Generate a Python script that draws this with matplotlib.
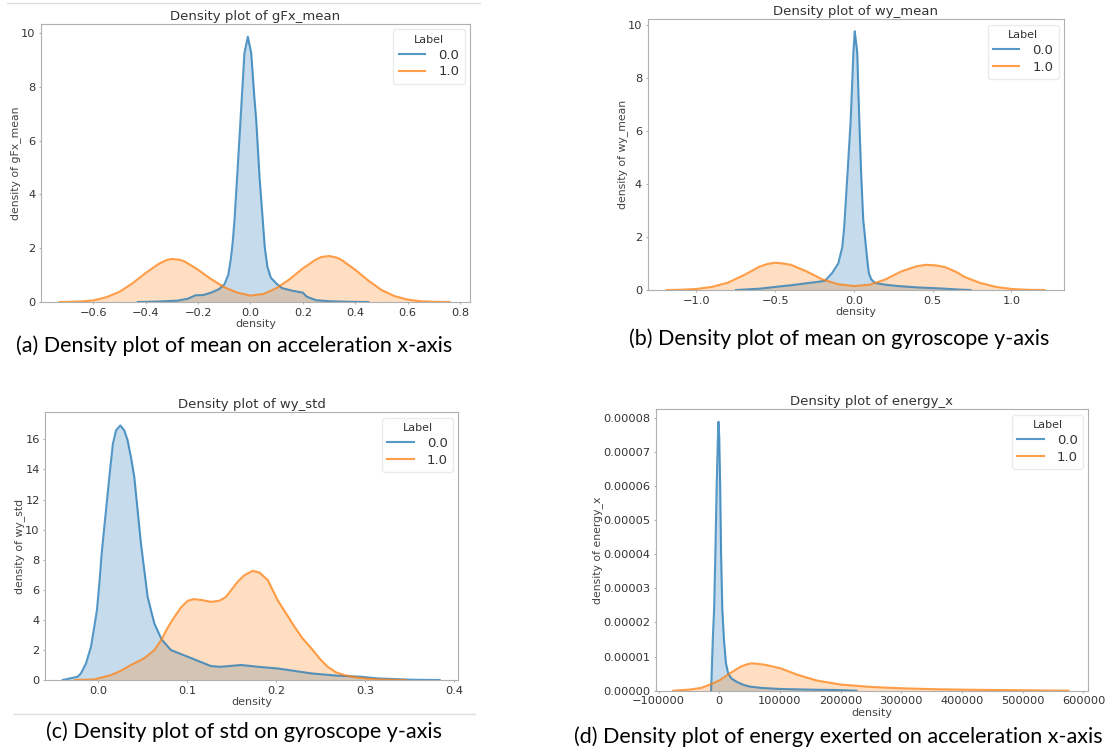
import matplotlib
matplotlib.use("Agg")
import matplotlib.pyplot as plt
from matplotlib.lines import Line2D
from matplotlib.ticker import FormatStrFormatter

# ---- density curves ----
# (a) gFx_mean
gfx_label0_x = [-0.43, -0.35, -0.28, -0.24, -0.21, -0.18, -0.15, -0.12, -0.1, -0.085, -0.075, -0.068,
                -0.061, -0.05, -0.038, -0.023, -0.01, 0.003, 0.015, 0.022, 0.035, 0.047, 0.055, 0.065,
                0.078, 0.098, 0.12, 0.16, 0.2, 0.215, 0.25, 0.3, 0.37, 0.45]
gfx_label0_y = [0, 0.02, 0.05, 0.12, 0.25, 0.26, 0.35, 0.48, 0.65, 1.0, 1.6, 2.2,
                3.05, 4.8, 6.77, 9.25, 9.86, 9.25, 7.6, 6.77, 4.6, 3.05, 2.0, 1.3,
                0.9, 0.7, 0.52, 0.42, 0.35, 0.2, 0.07, 0.03, 0.01, 0]
gfx_label1_x = [-0.73, -0.65, -0.6, -0.55, -0.5, -0.45, -0.4, -0.35, -0.32, -0.3, -0.27, -0.25, -0.2,
                -0.15, -0.1, -0.05, 0.0, 0.05, 0.1, 0.15, 0.2, 0.25, 0.27, 0.3, 0.33, 0.35, 0.4, 0.45,
                0.5, 0.55, 0.6, 0.65, 0.7, 0.76]
gfx_label1_y = [0, 0.02, 0.06, 0.18, 0.38, 0.7, 1.08, 1.42, 1.56, 1.6, 1.57, 1.5, 1.2,
                0.85, 0.55, 0.35, 0.24, 0.3, 0.52, 0.85, 1.25, 1.58, 1.67, 1.71, 1.65, 1.55, 1.2, 0.8,
                0.45, 0.22, 0.09, 0.03, 0.01, 0]

# (b) wy_mean
wym_label0_x = [-0.75, -0.6, -0.48, -0.4, -0.31, -0.24, -0.184, -0.14, -0.1, -0.075, -0.063, -0.04,
                -0.021, -0.01, -0.004, 0.005, 0.012, 0.021, 0.028, 0.034, 0.045, 0.059, 0.07, 0.08,
                0.087, 0.095, 0.11, 0.133, 0.2, 0.28, 0.4, 0.58, 0.66, 0.74]
wym_label0_y = [0, 0.05, 0.13, 0.18, 0.25, 0.3, 0.35, 0.63, 1.0, 1.6, 2.3, 4.5,
                6.4, 8.0, 8.94, 9.75, 9.4, 8.94, 7.5, 6.4, 4.5, 2.64, 2.0, 1.4,
                1.0, 0.63, 0.4, 0.27, 0.2, 0.15, 0.1, 0.05, 0.02, 0]
wym_label1_x = [-1.19, -1.1, -1.0, -0.9, -0.8, -0.7, -0.6, -0.55, -0.5, -0.45, -0.4, -0.3, -0.2, -0.1,
                0.0, 0.1, 0.2, 0.3, 0.4, 0.46, 0.52, 0.58, 0.65, 0.7, 0.8, 0.9, 1.0, 1.1, 1.21]
wym_label1_y = [0, 0.01, 0.04, 0.12, 0.28, 0.56, 0.88, 0.98, 1.03, 1.0, 0.95, 0.7, 0.4, 0.22,
                0.15, 0.2, 0.4, 0.7, 0.9, 0.95, 0.93, 0.86, 0.68, 0.5, 0.27, 0.12, 0.04, 0.01, 0]

# (c) wy_std
wys_label0_x = [-0.0395, -0.0227, -0.019, -0.0133, -0.0077, -0.004, -0.001, 0.0017, 0.0043, 0.0073,
                0.0103, 0.0129, 0.0169, 0.0204, 0.0253, 0.0298, 0.0335, 0.0373, 0.041, 0.0447, 0.0485,
                0.056, 0.0635, 0.0717, 0.0822, 0.101, 0.127, 0.138, 0.161, 0.18,
                0.202, 0.24, 0.269, 0.296, 0.314, 0.352, 0.384]
wys_label0_y = [0, 0.22, 0.44, 1.1, 2.21, 3.54, 4.65, 6.42, 8.41, 10.2,
                11.95, 13.5, 15.7, 16.6, 16.93, 16.6, 15.94, 14.8, 13.5, 11.3, 9.07,
                5.53, 3.76, 2.7, 1.99, 1.55, 0.93, 0.88, 1.0, 0.88,
                0.77, 0.44, 0.29, 0.22, 0.11, 0.02, 0]
wys_label1_x = [-0.026, -0.004, 0.0147, 0.026, 0.037, 0.052, 0.0635, 0.0717, 0.078, 0.086, 0.0935,
                0.101, 0.108, 0.118, 0.127, 0.1365, 0.144, 0.157, 0.1646, 0.174, 0.1815, 0.191,
                0.202, 0.2115, 0.221, 0.23, 0.24, 0.249, 0.258, 0.2676, 0.277, 0.288, 0.299, 0.314, 0.346]
wys_label1_y = [0, 0.04, 0.33, 0.62, 0.99, 1.44, 1.99, 2.7, 3.43, 4.2, 4.83,
                5.27, 5.38, 5.31, 5.2, 5.27, 5.53, 6.53, 6.97, 7.26, 7.15, 6.64,
                5.31, 4.43, 3.54, 2.77, 2.1, 1.44, 0.89, 0.51, 0.33, 0.2, 0.11, 0.04, 0]

# (d) energy_x
enx_label0_x = [-13500, -12000, -10500, -8500, -6500, -4300, -2500, -1300, 0, 1500, 3000, 5000,
                7700, 11000, 14800, 20000, 28600, 40000, 50600, 70000, 100000, 150000, 193000, 226000]
enx_label0_y = [0, 0.8e-5, 1.6e-5, 2.4e-5, 4.0e-5, 6.0e-5, 7.3e-5, 7.88e-5, 7.4e-5, 6.0e-5, 4.0e-5, 2.4e-5,
                1.5e-5, 0.8e-5, 0.5e-5, 0.36e-5, 0.26e-5, 0.17e-5, 0.12e-5, 0.08e-5, 0.05e-5, 0.03e-5, 0.02e-5, 0]
enx_label1_x = [-76000, -50000, -30000, -15000, 0, 17600, 35000, 45000, 53000, 62000, 75000, 100000,
                130000, 160000, 200000, 250000, 300000, 350000, 400000, 450000, 500000, 575000]
enx_label1_y = [0, 0.3e-6, 0.8e-6, 1.8e-6, 3.0e-6, 5.1e-6, 7.0e-6, 7.7e-6, 8.0e-6, 7.9e-6, 7.6e-6, 6.6e-6,
                4.6e-6, 3.0e-6, 1.8e-6, 1.1e-6, 0.7e-6, 0.45e-6, 0.3e-6, 0.2e-6, 0.12e-6, 0]

legend_labels = ["0.0", "1.0"]

captions = ["(a) Density plot of mean on acceleration x-axis",
            "(b) Density plot of mean on gyroscope y-axis",
            "(c) Density plot of std on gyroscope y-axis",
            "(d) Density plot of energy exerted on acceleration x-axis"]

BLUE = "#1f77b4"
ORANGE = "#ff7f0e"
SPINE = "#b0b0b0"
TEXT = "#333333"


def _draw_density(ax, curves, feature, xlim, ylim, xticks, yticks):
    colors = [BLUE, ORANGE]
    handles = []
    for (x, y), c in zip(curves, colors):
        ax.fill_between(x, y, 0, color=c, alpha=0.25, linewidth=0)
        line, = ax.plot(x, y, color=c, alpha=0.75, linewidth=1.5)
        handles.append(line)

    ax.set_xlim(xlim)
    ax.set_ylim(ylim)
    ax.set_xticks(xticks)
    ax.set_yticks(yticks)

    # Title and axes labels
    ax.set_title(f"Density plot of {feature}", fontsize=9.5, color=TEXT, pad=3)
    ax.set_xlabel("density", fontsize=8, color="#444444", labelpad=1)
    ax.set_ylabel(f"density of {feature}", fontsize=7.8, color="#444444", labelpad=0)

    for s in ax.spines.values():
        s.set_color(SPINE)
    ax.tick_params(colors=SPINE, labelcolor=TEXT, labelsize=8.2, length=1.5, width=0.8, pad=2.5)

    leg = ax.legend(handles, legend_labels, title="Label", loc="upper right", fontsize=9.5,
                    title_fontsize=8, frameon=True, handlelength=2.0, borderpad=0.4,
                    labelspacing=0.3, handletextpad=1.0, borderaxespad=0.4)
    leg.get_frame().set_edgecolor("#e6e6e6")
    leg.get_title().set_color(TEXT)
    for t in leg.get_texts():
        t.set_color(TEXT)
    return ax


fig = plt.figure(figsize=(11.13, 7.5), dpi=100)

ax_a = fig.add_axes([0.0368, 0.5973, 0.3854, 0.3707])
_draw_density(ax_a, [(gfx_label0_x, gfx_label0_y), (gfx_label1_x, gfx_label1_y)], "gFx_mean",
              (-0.80, 0.838), (0, 10.33), [-0.6, -0.4, -0.2, 0.0, 0.2, 0.4, 0.6, 0.8], [0, 2, 4, 6, 8, 10])

ax_b = fig.add_axes([0.5819, 0.6133, 0.3740, 0.3609])
_draw_density(ax_b, [(wym_label0_x, wym_label0_y), (wym_label1_x, wym_label1_y)], "wy_mean",
              (-1.31, 1.333), (0, 10.2), [-1.0, -0.5, 0.0, 0.5, 1.0], [0, 2, 4, 6, 8, 10])

ax_c = fig.add_axes([0.0407, 0.0933, 0.3711, 0.3569])
_draw_density(ax_c, [(wys_label0_x, wys_label0_y), (wys_label1_x, wys_label1_y)], "wy_std",
              (-0.059, 0.405), (0, 17.8), [0.0, 0.1, 0.2, 0.3, 0.4], [0, 2, 4, 6, 8, 10, 12, 14, 16])

ax_d = fig.add_axes([0.5891, 0.0791, 0.3887, 0.3752])
_draw_density(ax_d, [(enx_label0_x, enx_label0_y), (enx_label1_x, enx_label1_y)], "energy_x",
              (-104800, 607900), (0, 8.245e-5), list(range(-100000, 600001, 100000)),
              [i * 1e-5 for i in range(9)])
ax_d.yaxis.set_major_formatter(FormatStrFormatter("%.5f"))

# Captions under each panel
cap_font = dict(fontsize=15.5, family="Lato", color="black", ha="center", va="center")
fig.text(234 / 1113, 1 - 346 / 750, captions[0], **cap_font)
fig.text(839 / 1113, 1 - 339 / 750, captions[1], **cap_font)
fig.text(244 / 1113, 1 - 732 / 750, captions[2], **cap_font)
fig.text(838 / 1113, 1 - 737 / 750, captions[3], **cap_font)

# Faint separator lines from the original figure layout
fig.add_artist(Line2D([7 / 1113, 480 / 1113], [1 - 3 / 750, 1 - 3 / 750], color="#dddddd", linewidth=1))
fig.add_artist(Line2D([14 / 1113, 475 / 1113], [1 - 714 / 750, 1 - 714 / 750], color="#dddddd", linewidth=1))

fig.savefig("out.png", dpi=100)
